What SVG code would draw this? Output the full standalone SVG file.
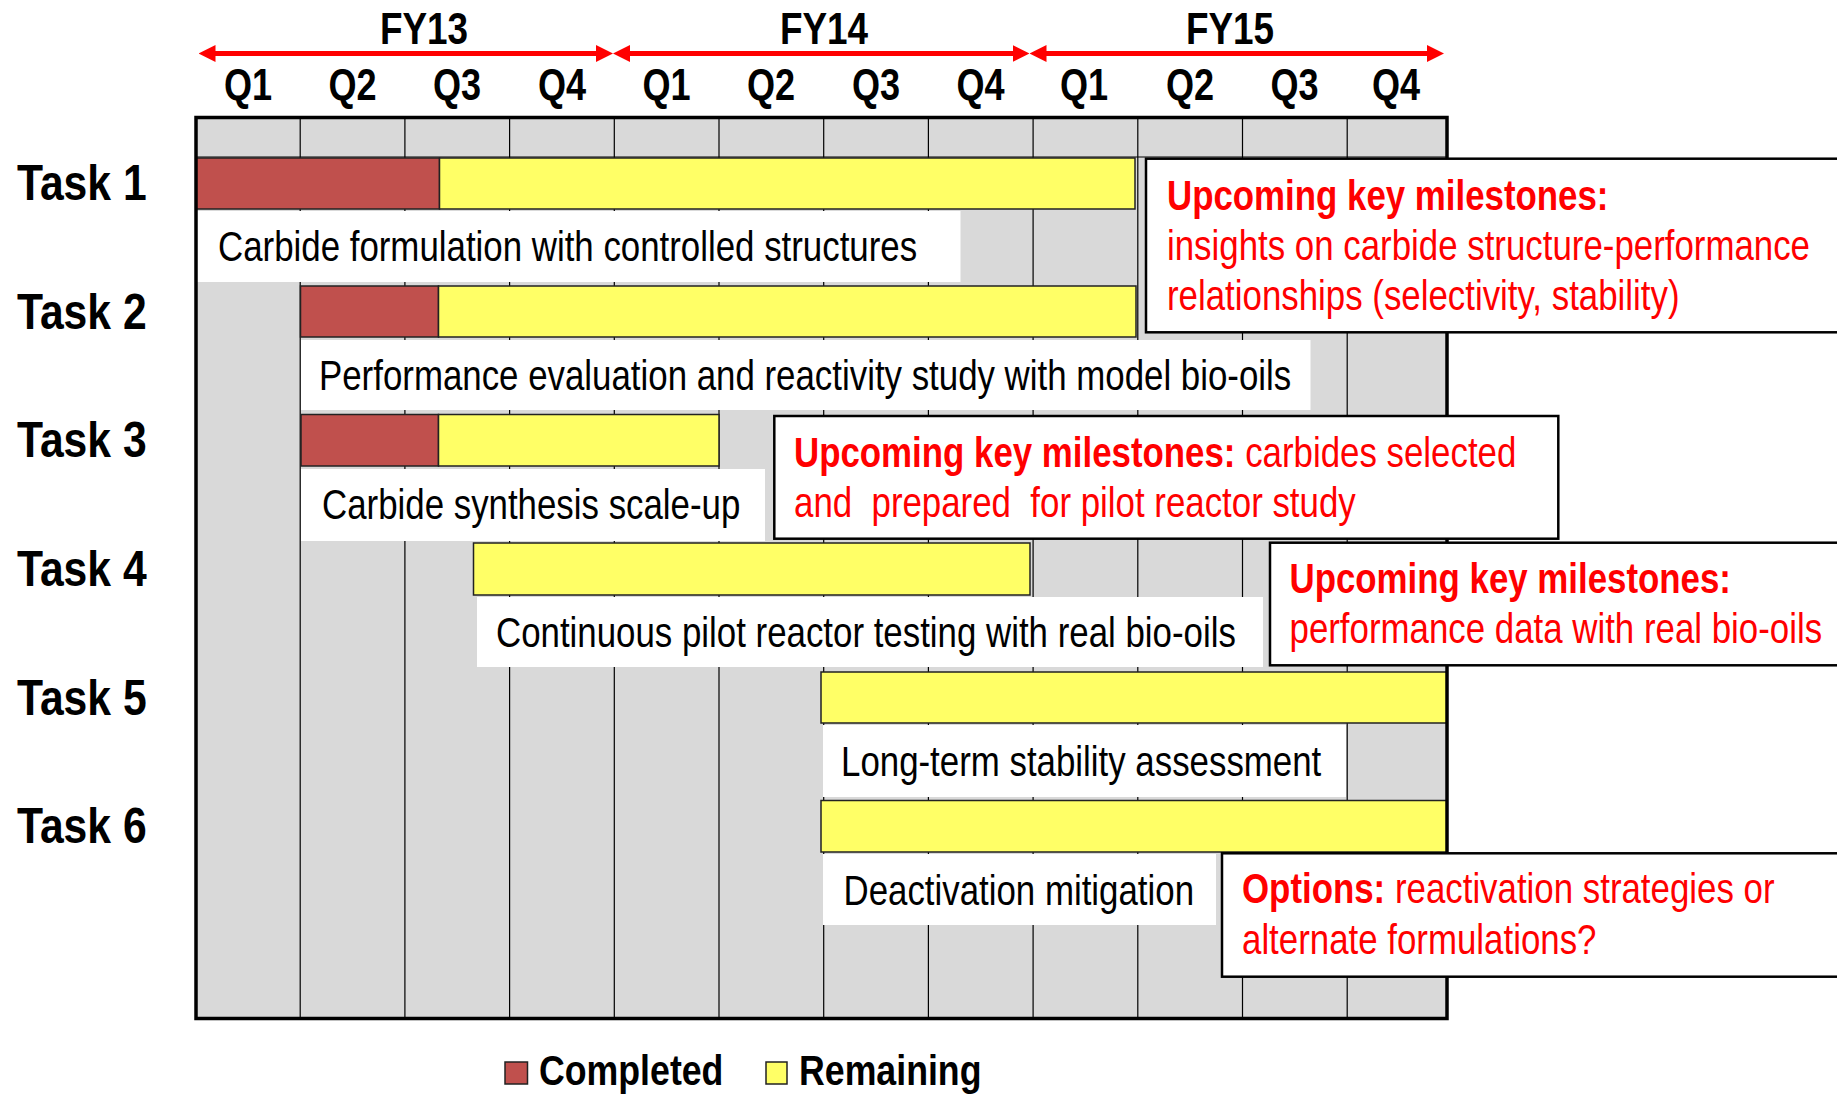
<svg xmlns="http://www.w3.org/2000/svg" width="1837" height="1095" viewBox="0 0 1837 1095">
  <style>
    text { font-family: "Liberation Sans", Arial, sans-serif; }
    .hdr { font-size: 45px; font-weight: bold; fill: #000; text-anchor: middle; }
    .q { font-size: 44px; font-weight: bold; fill: #000; text-anchor: middle; }
    .task { font-size: 50px; font-weight: bold; fill: #000; }
    .lbl { font-size: 42px; fill: #000; }
    .ms { font-size: 42px; fill: #FF0000; }
    .b { font-weight: bold; }
    .leg { font-size: 42px; font-weight: bold; fill: #000; }
    .grid { stroke: #000; stroke-width: 1.2; }
    .done { fill: #C0504D; stroke: #222; stroke-width: 1.5; }
    .todo { fill: #FFFF66; stroke: #222; stroke-width: 1.5; }
    .lblbox { fill: #FFFFFF; }
    .msbox { fill: #FFFFFF; stroke: #000; stroke-width: 2.5; }
    .span { stroke: #FF0000; stroke-width: 5; fill: none; }
  </style>
  <defs>
    <marker id="head" markerUnits="userSpaceOnUse" markerWidth="17" markerHeight="17" refX="2" refY="8.5" orient="auto-start-reverse">
      <path d="M0,0 L17,8.5 L0,17 Z" fill="#FF0000"/>
    </marker>
  </defs>

  <rect width="1837" height="1095" fill="#FFFFFF"/>

  <!-- fiscal year spans -->
  <g id="fiscal-years">
    <g class="hdr">
      <text transform="translate(424 44) scale(0.82 1)">FY13</text>
      <text transform="translate(824 44) scale(0.82 1)">FY14</text>
      <text transform="translate(1230 44) scale(0.82 1)">FY15</text>
    </g>
  </g>

  <g id="connectors">
    <line class="span" x1="213.5" y1="53.5" x2="598" y2="53.5" marker-start="url(#head)" marker-end="url(#head)"/>
    <line class="span" x1="628" y1="53.5" x2="1014.5" y2="53.5" marker-start="url(#head)" marker-end="url(#head)"/>
    <line class="span" x1="1044.5" y1="53.5" x2="1429" y2="53.5" marker-start="url(#head)" marker-end="url(#head)"/>
  </g>

  <!-- quarter labels -->
  <g id="quarters" class="q">
    <text transform="translate(248 100) scale(0.82 1)">Q1</text>
    <text transform="translate(352.5 100) scale(0.82 1)">Q2</text>
    <text transform="translate(457 100) scale(0.82 1)">Q3</text>
    <text transform="translate(562 100) scale(0.82 1)">Q4</text>
    <text transform="translate(666.5 100) scale(0.82 1)">Q1</text>
    <text transform="translate(771 100) scale(0.82 1)">Q2</text>
    <text transform="translate(876 100) scale(0.82 1)">Q3</text>
    <text transform="translate(980.5 100) scale(0.82 1)">Q4</text>
    <text transform="translate(1084 100) scale(0.82 1)">Q1</text>
    <text transform="translate(1190 100) scale(0.82 1)">Q2</text>
    <text transform="translate(1294.5 100) scale(0.82 1)">Q3</text>
    <text transform="translate(1396 100) scale(0.82 1)">Q4</text>
  </g>

  <!-- chart area and grid -->
  <g id="grid">
    <rect x="196" y="117.5" width="1251" height="901" fill="#D9D9D9"/>
    <g class="grid">
      <line x1="300.2" y1="117" x2="300.2" y2="1019"/>
      <line x1="404.9" y1="117" x2="404.9" y2="1019"/>
      <line x1="509.6" y1="117" x2="509.6" y2="1019"/>
      <line x1="614.3" y1="117" x2="614.3" y2="1019"/>
      <line x1="719" y1="117" x2="719" y2="1019"/>
      <line x1="823.7" y1="117" x2="823.7" y2="1019"/>
      <line x1="928.4" y1="117" x2="928.4" y2="1019"/>
      <line x1="1033.1" y1="117" x2="1033.1" y2="1019"/>
      <line x1="1137.8" y1="117" x2="1137.8" y2="1019"/>
      <line x1="1242.5" y1="117" x2="1242.5" y2="1019"/>
      <line x1="1347.2" y1="117" x2="1347.2" y2="1019"/>
      <line x1="196" y1="157" x2="1447" y2="157"/>
    </g>
  </g>

  <!-- task labels -->
  <g id="task-labels" class="task">
    <text transform="translate(17 200) scale(0.853 1)">Task 1</text>
    <text transform="translate(17 329) scale(0.853 1)">Task 2</text>
    <text transform="translate(17 457) scale(0.853 1)">Task 3</text>
    <text transform="translate(17 586) scale(0.853 1)">Task 4</text>
    <text transform="translate(17 715) scale(0.853 1)">Task 5</text>
    <text transform="translate(17 843) scale(0.853 1)">Task 6</text>
  </g>

  <!-- task 1 -->
  <g id="task1">
    <rect class="done" x="196" y="158" width="243.5" height="51"/>
    <rect class="todo" x="439.5" y="158" width="695.5" height="51"/>
    <rect class="lblbox" x="196" y="211" width="764.5" height="71"/>
    <text class="lbl" transform="translate(218 261) scale(0.83 1)">Carbide formulation with controlled structures</text>
  </g>

  <!-- task 2 -->
  <g id="task2">
    <rect class="done" x="300.5" y="286" width="138" height="51"/>
    <rect class="todo" x="438.5" y="286" width="697.5" height="51"/>
    <rect class="lblbox" x="301" y="340" width="1009.5" height="70"/>
    <text class="lbl" transform="translate(319 390) scale(0.83 1)">Performance evaluation and reactivity study with model bio-oils</text>
  </g>

  <!-- task 3 -->
  <g id="task3">
    <rect class="done" x="301" y="414.5" width="137.5" height="51.5"/>
    <rect class="todo" x="438.5" y="414.5" width="280.5" height="51.5"/>
    <rect class="lblbox" x="301" y="469" width="464" height="72"/>
    <text class="lbl" transform="translate(322 519) scale(0.83 1)">Carbide synthesis scale-up</text>
  </g>

  <!-- task 4 -->
  <g id="task4">
    <rect class="todo" x="473.5" y="543" width="556.5" height="52"/>
    <rect class="lblbox" x="477" y="597" width="786" height="70"/>
    <text class="lbl" transform="translate(496 647) scale(0.83 1)">Continuous pilot reactor testing with real bio-oils</text>
  </g>

  <!-- task 5 -->
  <g id="task5">
    <rect class="todo" x="821" y="672" width="626" height="51"/>
    <rect class="lblbox" x="823" y="725" width="523" height="72"/>
    <text class="lbl" transform="translate(841 776) scale(0.83 1)">Long-term stability assessment</text>
  </g>

  <!-- task 6 -->
  <g id="task6">
    <rect class="todo" x="821" y="800.5" width="626" height="51.5"/>
    <rect class="lblbox" x="823" y="854" width="393" height="71"/>
    <text class="lbl" transform="translate(843.5 905) scale(0.83 1)">Deactivation mitigation</text>
  </g>

  <!-- chart frame -->
  <rect x="196" y="117.5" width="1251" height="901" fill="none" stroke="#000" stroke-width="3.5"/>

  <!-- milestone call-outs -->
  <g id="milestone1">
    <rect class="msbox" x="1146" y="158.7" width="700" height="173.6"/>
    <text class="ms b" transform="translate(1167 210) scale(0.83 1)">Upcoming key milestones:</text>
    <text class="ms" transform="translate(1167 260) scale(0.83 1)">insights on carbide structure-performance</text>
    <text class="ms" transform="translate(1167 310) scale(0.83 1)">relationships (selectivity, stability)</text>
  </g>

  <g id="milestone2">
    <rect class="msbox" x="774.3" y="416" width="784" height="122.7"/>
    <text class="ms" transform="translate(794 467) scale(0.83 1)"><tspan class="b">Upcoming key milestones:</tspan> carbides selected</text>
    <text class="ms" transform="translate(794 517) scale(0.83 1)" xml:space="preserve">and  prepared  for pilot reactor study</text>
  </g>

  <g id="milestone3">
    <rect class="msbox" x="1270" y="542.7" width="580" height="122.6"/>
    <text class="ms b" transform="translate(1289.5 593) scale(0.83 1)">Upcoming key milestones:</text>
    <text class="ms" transform="translate(1289.5 643) scale(0.83 1)">performance data with real bio-oils</text>
  </g>

  <g id="options">
    <rect class="msbox" x="1222" y="853.3" width="625" height="123.4"/>
    <text class="ms" transform="translate(1242 903) scale(0.83 1)"><tspan class="b">Options:</tspan> reactivation strategies or</text>
    <text class="ms" transform="translate(1242 954) scale(0.83 1)">alternate formulations?</text>
  </g>

  <!-- legend -->
  <g id="legend">
    <rect class="done" x="505" y="1062" width="22.5" height="22"/>
    <text class="leg" transform="translate(539 1085) scale(0.85 1)">Completed</text>
    <rect class="todo" x="766" y="1062" width="21" height="22"/>
    <text class="leg" transform="translate(799 1085) scale(0.85 1)">Remaining</text>
  </g>
</svg>
